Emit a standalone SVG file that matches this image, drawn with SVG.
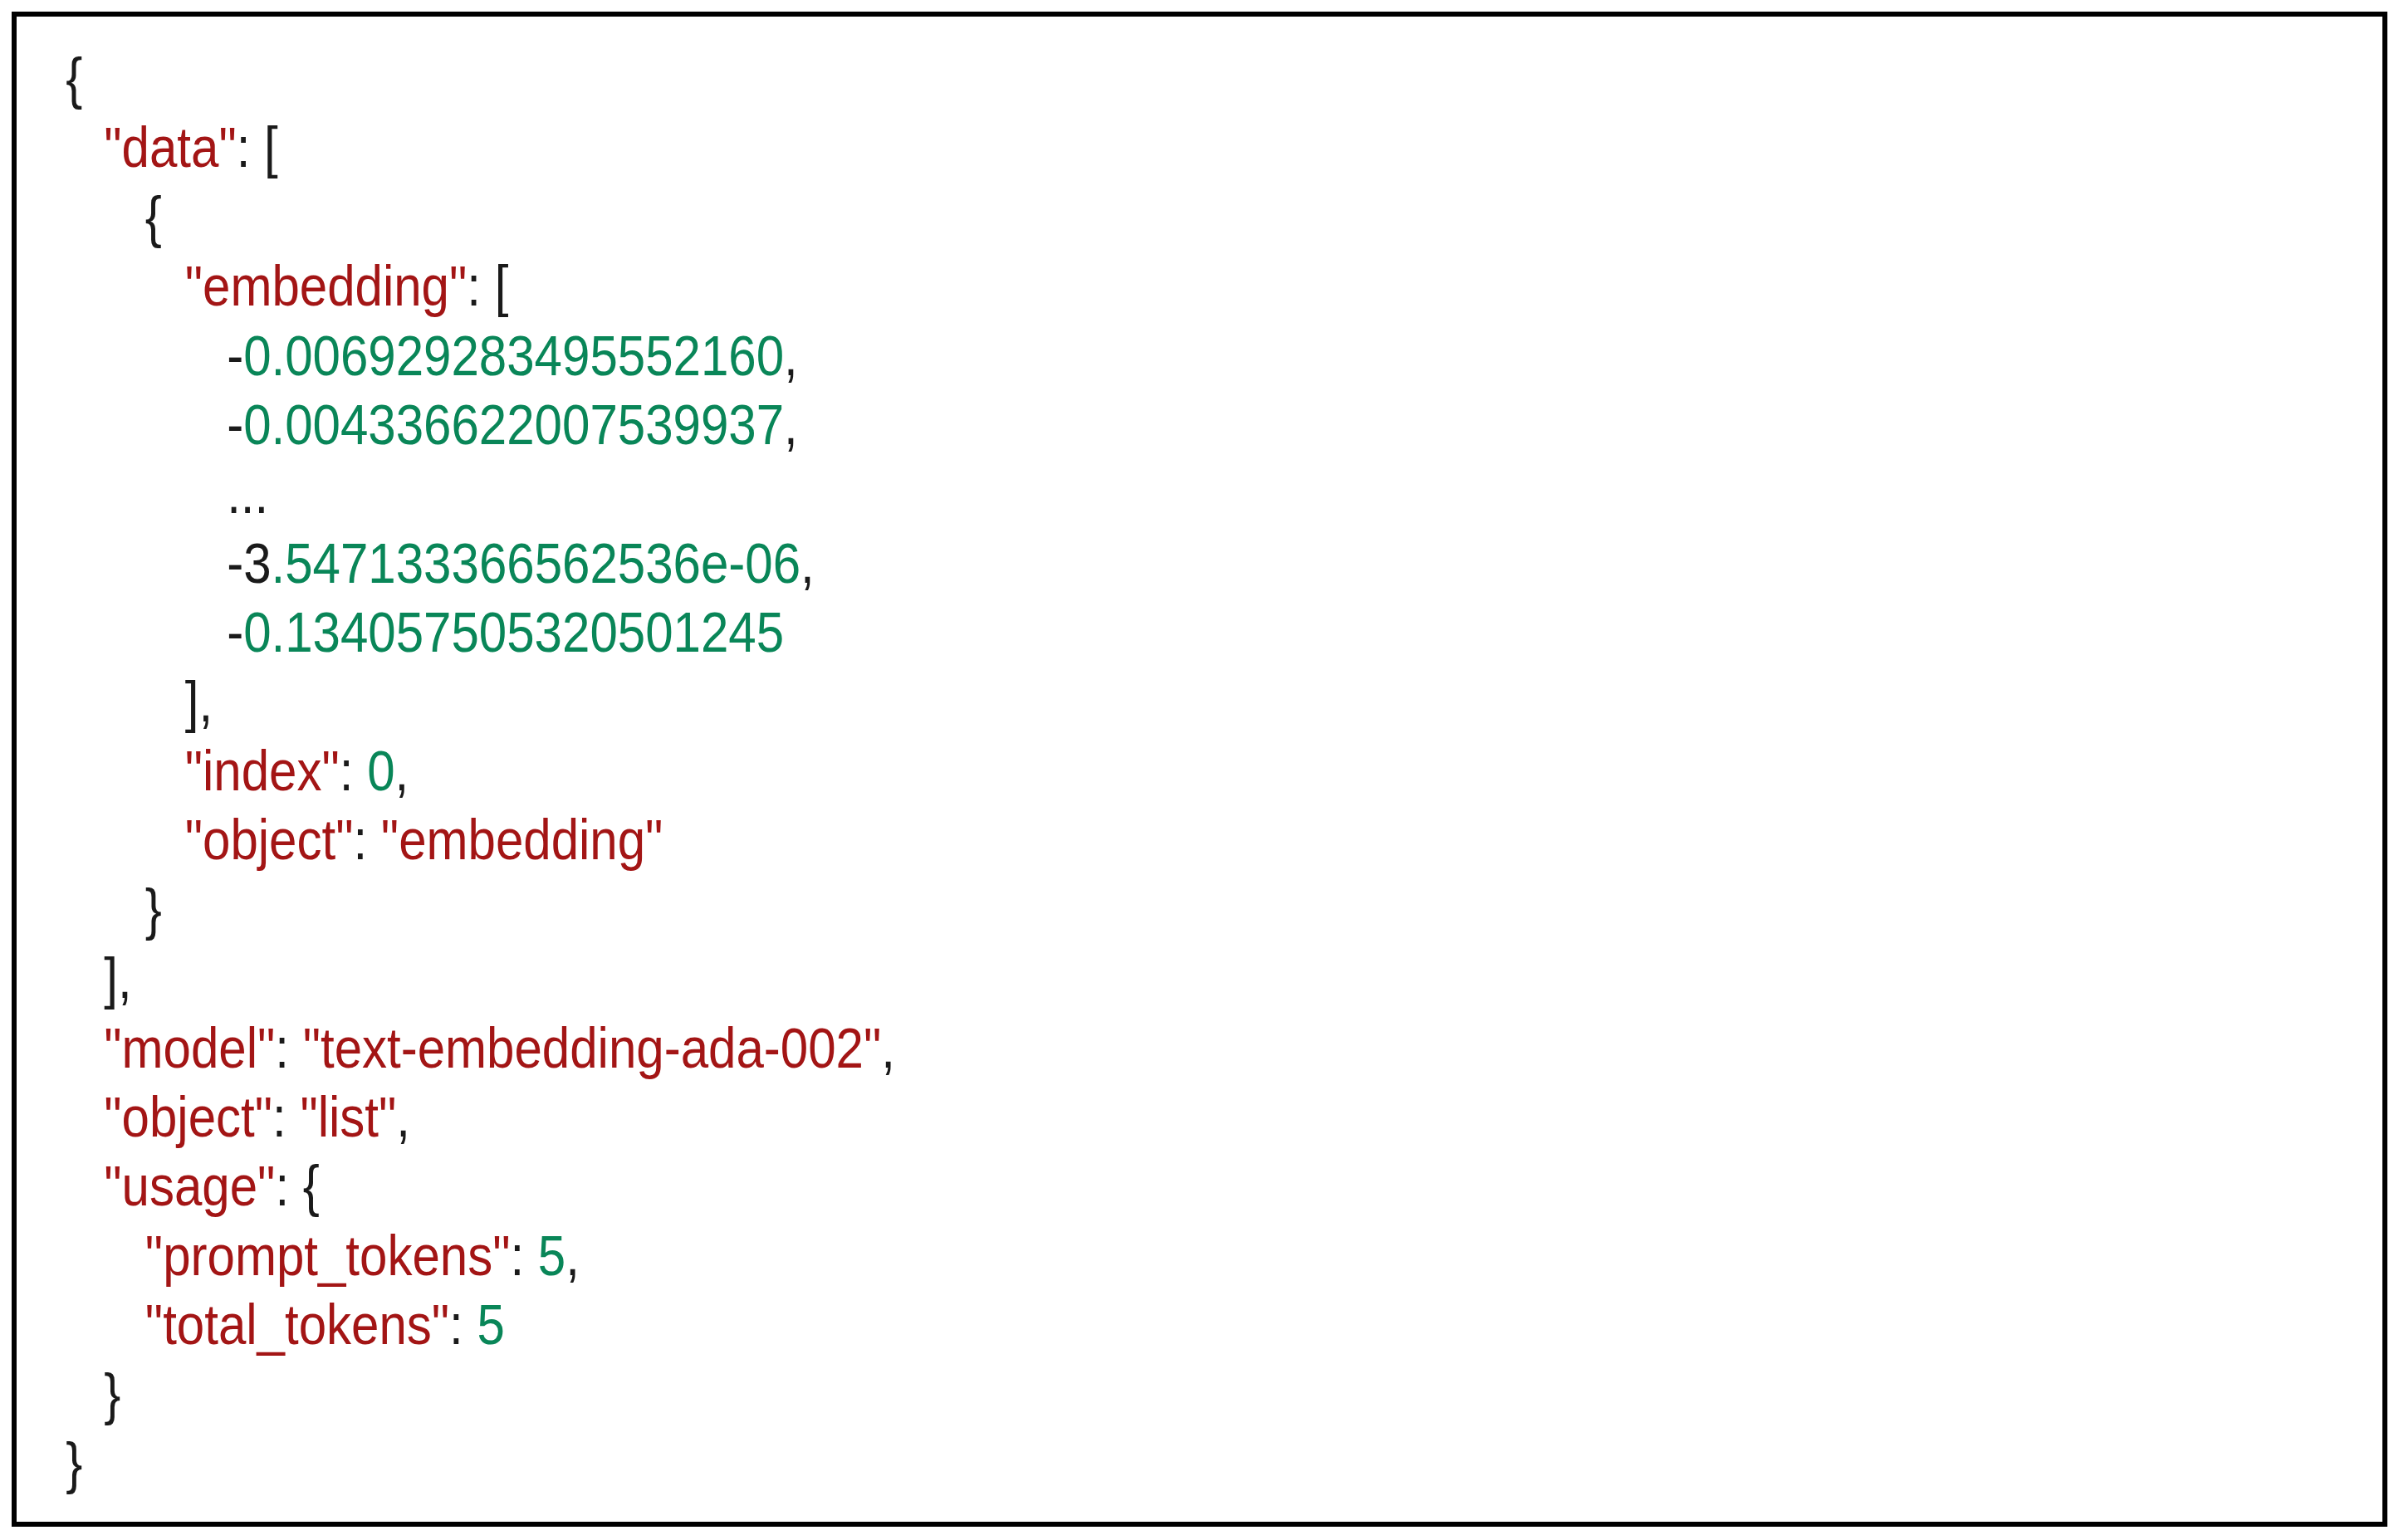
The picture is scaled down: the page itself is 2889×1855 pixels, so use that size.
<svg xmlns="http://www.w3.org/2000/svg" width="2889" height="1855" viewBox="0 0 2889 1855">
<style>
text{font-family:"Liberation Sans",Arial,sans-serif;font-size:69px;fill:#1a1a1a}
.k{fill:#a31515}.n{fill:#098658}
</style>
<rect width="2889" height="1855" fill="#fff"/>
<g id="frame"><rect x="17" y="17" width="2855" height="1819" fill="none" stroke="#000" stroke-width="6"/></g>
<g id="json" transform="scale(0.87,1)">
<text x="91" y="118">{</text>
<text x="144" y="201"><tspan class="k">"data"</tspan>: [</text>
<text x="201" y="285">{</text>
<text x="256" y="368"><tspan class="k">"embedding"</tspan>: [</text>
<text x="314" y="452">-<tspan class="n">0.006929283495552160</tspan>,</text>
<text x="314" y="535">-<tspan class="n">0.004336622007539937</tspan>,</text>
<text x="314" y="618">...</text>
<text x="314" y="702">-3<tspan class="n">.547133366562536e-06</tspan>,</text>
<text x="314" y="785">-<tspan class="n">0.134057505320501245</tspan></text>
<text x="256" y="869">],</text>
<text x="256" y="952"><tspan class="k">"index"</tspan>: <tspan class="n">0</tspan>,</text>
<text x="256" y="1035"><tspan class="k">"object"</tspan>: <tspan class="k">"embedding"</tspan></text>
<text x="201" y="1119">}</text>
<text x="144" y="1202">],</text>
<text x="144" y="1286"><tspan class="k">"model"</tspan>: <tspan class="k">"text-embedding-ada-002"</tspan>,</text>
<text x="144" y="1369"><tspan class="k">"object"</tspan>: <tspan class="k">"list"</tspan>,</text>
<text x="144" y="1452"><tspan class="k">"usage"</tspan>: {</text>
<text x="201" y="1536"><tspan class="k">"prompt_tokens"</tspan>: <tspan class="n">5</tspan>,</text>
<text x="201" y="1619"><tspan class="k">"total_tokens"</tspan>: <tspan class="n">5</tspan></text>
<text x="144" y="1703">}</text>
<text x="91" y="1786">}</text>
</g>
</svg>
